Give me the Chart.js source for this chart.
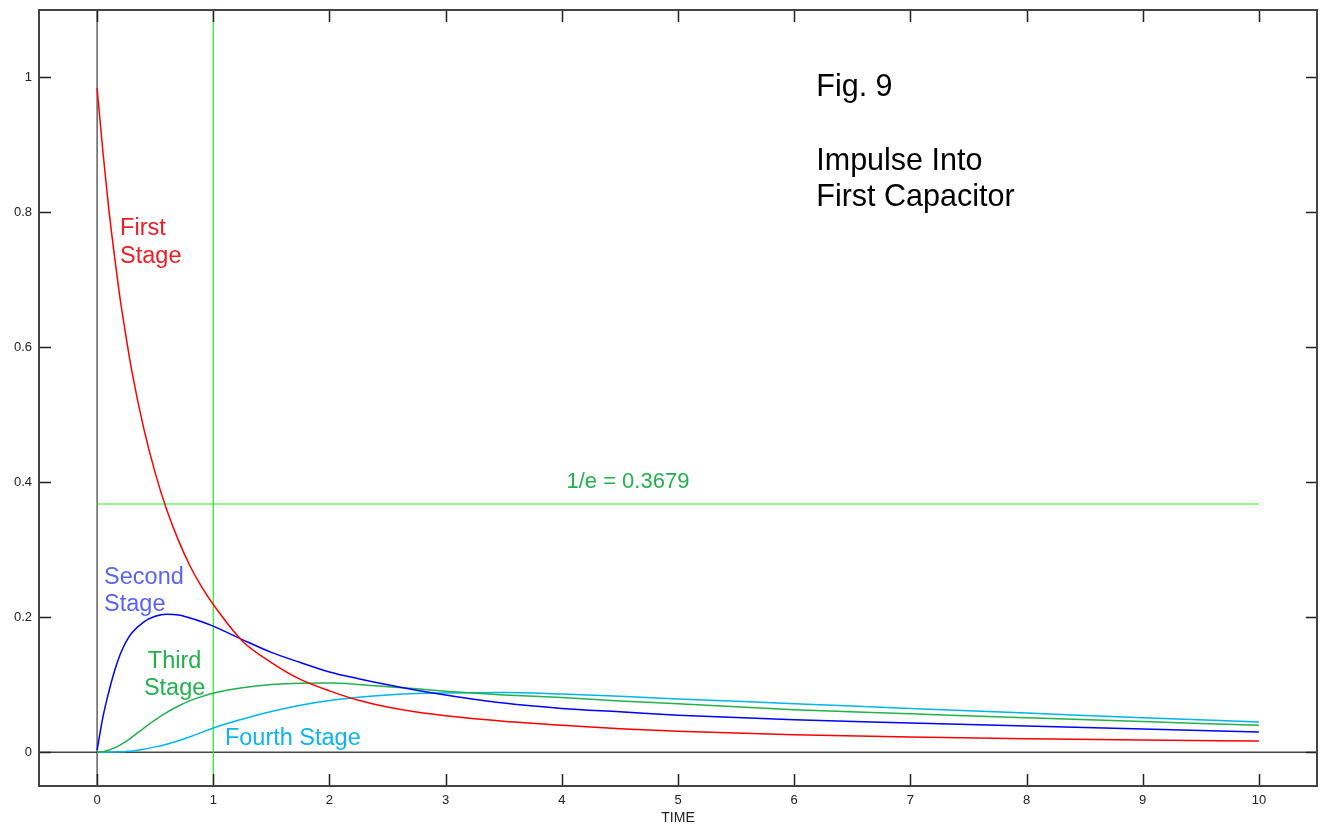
<!DOCTYPE html>
<html>
<head>
<meta charset="utf-8">
<title>Impulse Into First Capacitor</title>
<script src="https://cdn.jsdelivr.net/npm/chart.js@4/dist/chart.umd.min.js"></script>
<style>
  html, body { margin: 0; padding: 0; background: #fff; }
  canvas { display: block; }
</style>
</head>
<body>
<canvas id="rc-ladder" width="1321" height="824"></canvas>
<script>
// sample times (same grid for every stage)
const time = [0, 0.05, 0.1, 0.15, 0.2, 0.25, 0.3, 0.4, 0.5, 0.6, 0.7, 0.8, 0.9, 1, 1.25, 1.5, 1.75, 2,
  2.25, 2.5, 2.75, 3, 3.5, 4, 4.5, 5, 6, 7, 8, 9, 10];

// capacitor voltages per stage
const firstStage = [0.984, 0.89, 0.806, 0.735, 0.67, 0.615, 0.564, 0.481, 0.414, 0.359, 0.314, 0.276, 0.245, 0.219,
  0.165, 0.133, 0.108, 0.091, 0.077, 0.067, 0.0595, 0.054, 0.046, 0.040, 0.035, 0.031,
  0.026, 0.0225, 0.020, 0.018, 0.0166];
const secondStage = [0.003, 0.052, 0.089, 0.1205, 0.1455, 0.164, 0.177, 0.193, 0.2015, 0.2045, 0.2035, 0.199, 0.1935, 0.187,
  0.167, 0.148, 0.133, 0.119, 0.109, 0.100, 0.092, 0.085, 0.073, 0.065, 0.060, 0.055,
  0.048, 0.0435, 0.039, 0.0345, 0.030];
const thirdStage = [0, 0.0008, 0.003, 0.0065, 0.011, 0.0163, 0.0225, 0.0355, 0.048, 0.059, 0.0685, 0.0765, 0.0825, 0.0875,
  0.0955, 0.1003, 0.1023, 0.1025, 0.1005, 0.097, 0.094, 0.0905, 0.085, 0.081, 0.076, 0.072,
  0.063, 0.057, 0.051, 0.0455, 0.040];
const fourthStage = [0, 0, 0.0002, 0.0004, 0.0008, 0.0013, 0.002, 0.0045, 0.008, 0.012, 0.017, 0.023, 0.0295, 0.036,
  0.049, 0.0605, 0.0698, 0.0768, 0.0815, 0.085, 0.0872, 0.088, 0.0886, 0.0862, 0.083, 0.079,
  0.072, 0.0648, 0.058, 0.051, 0.045];

const xTickValues = [0, 1, 2, 3, 4, 5, 6, 7, 8, 9, 10];
const yTickValues = [0, 0.2, 0.4, 0.6, 0.8, 1];
const invE = 0.3679;     // 1/e reference level
const tau = 1;           // one time constant
const xRange = [-0.5, 10.5];
const yRange = [-0.05, 1.1];

const toPoints = (ys) => ys.map((v, i) => ({ x: time[i], y: v }));

const curve = (label, data, color) => ({
  label, data: toPoints(data), borderColor: color, borderWidth: 1.5,
  pointRadius: 0, cubicInterpolationMode: 'monotone', fill: false
});
const refLine = (label, data, color, width) => ({
  label, data, borderColor: color, borderWidth: width, pointRadius: 0, tension: 0, fill: false
});

// text drawn over the plot, positioned in data units
const notes = [
  { text: 'Fig. 9', x: 6.19, y: 0.972, color: '#000', size: 30.5, align: 'left' },
  { text: 'Impulse Into', x: 6.19, y: 0.8636, color: '#000', size: 30.5, align: 'left' },
  { text: 'First Capacitor', x: 6.19, y: 0.809, color: '#000', size: 30.5, align: 'left' },
  { text: 'First', x: 0.198, y: 0.766, color: '#ee1c24', size: 23.5, align: 'left' },
  { text: 'Stage', x: 0.198, y: 0.7257, color: '#ee1c24', size: 23.5, align: 'left' },
  { text: 'Second', x: 0.06, y: 0.2498, color: '#5b63f5', size: 23.5, align: 'left' },
  { text: 'Stage', x: 0.06, y: 0.2098, color: '#5b63f5', size: 23.5, align: 'left' },
  { text: 'Third', x: 0.667, y: 0.1248, color: '#22b14c', size: 23.5, align: 'center' },
  { text: 'Stage', x: 0.667, y: 0.0852, color: '#22b14c', size: 23.5, align: 'center' },
  { text: 'Fourth Stage', x: 1.10, y: 0.0111, color: '#0cb4ee', size: 23.5, align: 'left' },
  { text: '1/e = ' + invE.toFixed(4), x: 4.04, y: 0.391, color: '#22b14c', size: 22, align: 'left' }
];

const frameAndNotes = {
  id: 'frameAndNotes',
  afterDatasetsDraw(chart) {
    const { ctx, chartArea: a, scales: { x, y } } = chart;
    ctx.save();

    // tick marks pointing inward on all four sides
    ctx.strokeStyle = '#222';
    ctx.lineWidth = 1.5;
    ctx.beginPath();
    x.ticks.forEach(t => {
      const px = Math.round(x.getPixelForValue(t.value)) + 0.5;
      ctx.moveTo(px, a.bottom); ctx.lineTo(px, a.bottom - 12);
      ctx.moveTo(px, a.top); ctx.lineTo(px, a.top + 12);
    });
    y.ticks.forEach(t => {
      const py = Math.round(y.getPixelForValue(t.value)) + 0.5;
      ctx.moveTo(a.left, py); ctx.lineTo(a.left + 12, py);
      ctx.moveTo(a.right, py); ctx.lineTo(a.right - 11, py);
    });
    ctx.stroke();

    ctx.strokeStyle = '#444';
    ctx.lineWidth = 2;
    ctx.strokeRect(a.left, a.top, a.right - a.left, a.bottom - a.top);

    ctx.textBaseline = 'alphabetic';
    notes.forEach(n => {
      ctx.font = n.size + 'px "Liberation Sans", Arial, sans-serif';
      ctx.fillStyle = n.color;
      ctx.textAlign = n.align;
      ctx.fillText(n.text, x.getPixelForValue(n.x), y.getPixelForValue(n.y));
    });
    ctx.restore();
  }
};

new Chart(document.getElementById('rc-ladder'), {
  type: 'line',
  data: {
    datasets: [
      curve('First Stage', firstStage, '#ff0000'),
      curve('Second Stage', secondStage, '#0000ff'),
      curve('Third Stage', thirdStage, '#22b14c'),
      curve('Fourth Stage', fourthStage, '#00b4ef'),
      refLine('1/e', [{ x: 0, y: invE }, { x: 10, y: invE }], '#22ee22', 1.2),
      refLine('tau', [{ x: tau, y: yRange[0] }, { x: tau, y: yRange[1] }], '#22ee22', 1.2),
      refLine('zero x', [{ x: 0, y: yRange[0] }, { x: 0, y: yRange[1] }], '#111', 1),
      refLine('zero y', [{ x: xRange[0], y: 0 }, { x: xRange[1], y: 0 }], '#444', 1.5)
    ]
  },
  options: {
    responsive: false,
    animation: false,
    layout: { padding: { left: 0, right: 4, top: 10, bottom: 0 } },
    plugins: { legend: { display: false }, tooltip: { enabled: false } },
    scales: {
      x: {
        type: 'linear',
        min: xRange[0],
        max: xRange[1],
        afterBuildTicks: (scale) => { scale.ticks = xTickValues.map(v => ({ value: v })); },
        afterFit: (scale) => {
          scale.height = 38;
          scale.paddingLeft = 0;
          scale.paddingRight = 0;
        },
        grid: { display: false, drawTicks: false },
        border: { display: false },
        ticks: {
          padding: 7,
          color: '#222',
          font: { family: '"Liberation Sans", Arial, sans-serif', size: 13 },
          callback: (v) => String(v)
        },
        title: {
          display: true,
          text: 'TIME',
          color: '#222',
          padding: { top: 0, bottom: -3 },
          font: { family: '"Liberation Sans", Arial, sans-serif', size: 14 }
        }
      },
      y: {
        type: 'linear',
        min: yRange[0],
        max: yRange[1],
        afterBuildTicks: (scale) => { scale.ticks = yTickValues.map(v => ({ value: v })); },
        afterFit: (scale) => {
          scale.width = 39;
          scale.paddingTop = 0;
          scale.paddingBottom = 0;
        },
        grid: { display: false, drawTicks: false },
        border: { display: false },
        ticks: {
          padding: 7,
          color: '#222',
          font: { family: '"Liberation Sans", Arial, sans-serif', size: 13 },
          callback: (v) => String(v)
        }
      }
    }
  },
  plugins: [frameAndNotes]
});
</script>
</body>
</html>
